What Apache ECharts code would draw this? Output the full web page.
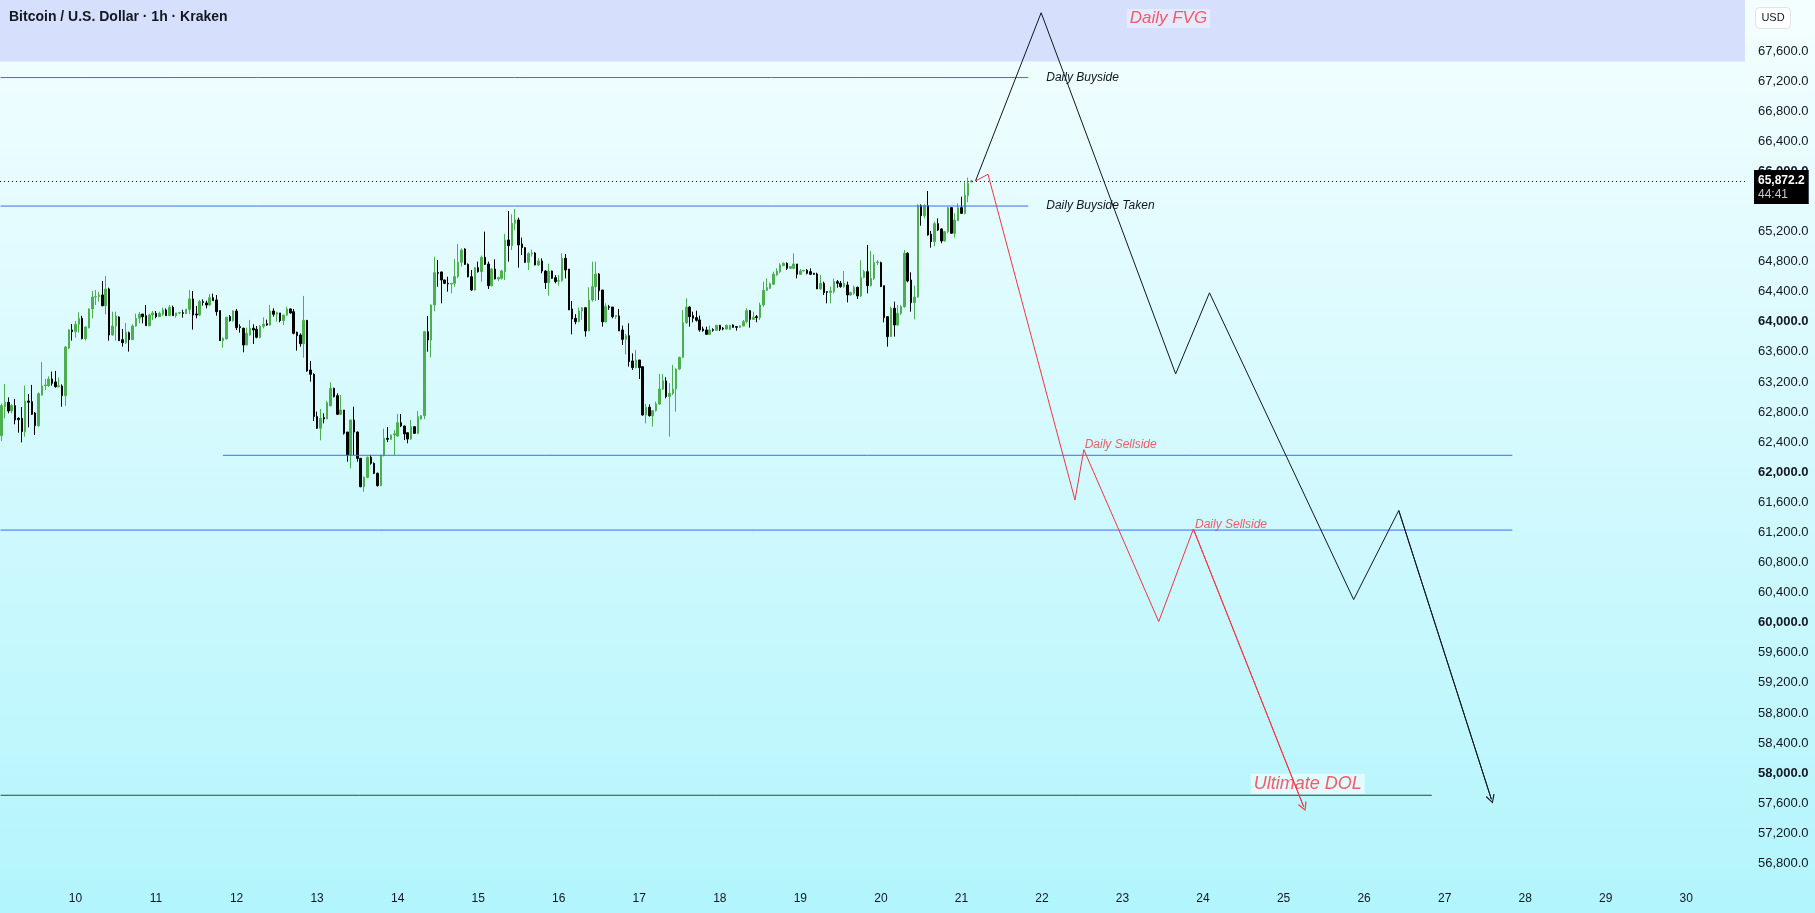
<!DOCTYPE html>
<html>
<head>
<meta charset="utf-8" />
<title>Bitcoin / U.S. Dollar 1h</title>
<style>
  html, body { margin: 0; padding: 0; }
  #chart { width: 1815px; height: 913px; }
</style>
</head>
<body>
<div id="chart"></div>
<script src="https://cdn.jsdelivr.net/npm/echarts@6/dist/echarts.min.js"></script>
<script>
// hourly slots: the first candle is 9 Sep 02:00, the axis runs on into the empty future
var firstDay = 9, firstHour = 2, slotCount = 520;

// 1h candles, [open, close, low, high]
var candles = [
  [62486,62885,62415,62911],[62871,62929,62716,63173],[62929,62814,62783,62995],[62814,62885,62783,62905],
  [62885,62694,62637,62973],[62716,62699,62526,62730],[62716,62539,62397,62867],[62539,62947,62473,63151],
  [62947,62930,62597,63040],[62938,62770,62760,63160],[62787,62619,62495,62800],[62619,63044,62605,63060],
  [63026,63146,63018,63465],[63150,63159,63093,63240],[63151,63239,63134,63275],[63239,63182,63151,63337],
  [63200,63137,63124,63346],[63137,63150,63128,63257],[63146,63018,62871,63168],[63018,63665,62880,63674],
  [63650,63891,63636,63904],[63891,63869,63749,63970],[63869,63966,63789,64010],[63966,64046,63855,64126],
  [64046,63775,63766,64080],[63775,63930,63749,63940],[63920,64170,63913,64178],[64170,64329,64046,64409],
  [64329,64334,64223,64422],[64334,64356,64267,64400],[64356,64214,64205,64542],[64214,64436,64098,64608],
  [64436,63824,63749,64453],[63824,63944,63815,64134],[63944,64077,63749,64134],[64063,63749,63744,64072],
  [63762,63722,63669,63904],[63722,63860,63704,63984],[63855,63762,63603,63869],[63762,63944,63758,63966],
  [63944,64046,63935,64108],[64046,64099,63979,64130],[64103,64068,63979,64103],[64081,63948,63948,64223],
  [63948,64090,63939,64108],[64090,64117,64024,64143],[64112,64068,64046,64143],[64068,64112,64063,64134],
  [64099,64157,64077,64188],[64157,64081,64081,64178],[64081,64192,64077,64223],[64192,64081,64081,64214],
  [64081,64117,64055,64117],[64117,64121,64100,64130],[64121,64112,64055,64160],[64108,64165,64103,64170],
  [64165,64303,64103,64422],[64303,64090,63895,64409],[64103,64090,64046,64210],[64090,64267,64081,64290],
  [64267,64258,64214,64298],[64250,64223,64179,64280],[64223,64320,64214,64369],[64320,64281,64276,64374],
  [64290,64134,64081,64356],[64148,63749,63749,64150],[63749,63780,63656,63790],[63771,64059,63766,64068],
  [64068,64015,64002,64090],[64015,64143,64002,64152],[64143,63922,63890,64170],[63935,63922,63855,63966],
  [63913,63691,63594,63922],[63691,63846,63691,63922],[63824,63913,63815,64024],[63913,63891,63704,63966],
  [63900,63793,63780,63944],[63793,63939,63780,63957],[63939,63966,63913,64059],[63975,63957,63948,64028],
  [63957,64143,63948,64223],[64143,64099,64068,64179],[64099,64121,64002,64134],[64117,64015,63993,64117],
  [64015,64090,63957,64090],[64090,64170,64077,64201],[64170,64117,64108,64179],[64134,63846,63833,64170],
  [63860,63815,63616,63869],[63824,63709,63669,63846],[63709,64019,63523,64343],[64019,63346,63337,64019],
  [63359,63301,63204,63479],[63301,62739,62681,63315],[62739,62584,62575,62805],[62584,62716,62424,62840],
  [62725,62708,62650,62783],[62708,62925,62708,62947],[62883,63115,62875,63195],[63115,63004,62995,63124],
  [63018,62770,62760,63049],[62770,62827,62760,63026],[62827,62517,62500,62827],[62534,62229,62140,62534],
  [62229,62694,62051,62700],[62694,62534,62229,62871],[62534,62184,62140,62540],[62184,61808,61800,62190],
  [61808,61932,61741,61945],[61932,62198,61920,62210],[62198,62118,62100,62230],[62118,61985,61975,62130],
  [61985,61821,61810,61995],[61821,62224,61815,62235],[62224,62450,62210,62580],[62450,62437,62400,62600],
  [62437,62494,62430,62500],[62494,62510,62229,62561],[62481,62658,62470,62774],[62658,62614,62600,62774],
  [62614,62508,62428,62620],[62525,62441,62384,62530],[62441,62605,62430,62694],[62605,62517,62510,62610],
  [62517,62738,62505,62813],[62707,62751,62700,62760],[62751,63868,62707,63870],[63868,63757,63602,64076],
  [63757,64223,63527,64230],[64223,64653,64140,64865],[64653,64644,64466,64821],[64662,64555,64245,64666],
  [64555,64511,64500,64560],[64511,64502,64400,64599],[64502,64511,64378,64515],[64511,64600,64466,64834],
  [64600,64790,64580,65034],[64790,64954,64733,64976],[64967,64763,64755,64976],[64763,64599,64590,64776],
  [64599,64422,64409,64688],[64422,64719,64415,64725],[64719,64666,64653,64799],[64666,64857,64533,64880],
  [64857,64763,64754,65198],[64768,64480,64436,64800],[64480,64701,64470,64710],[64701,64569,64565,64830],
  [64569,64586,64540,64600],[64577,64675,64560,64690],[64666,65087,64555,65167],[65087,65012,64799,65472],
  [65012,65309,64954,65428],[65309,65353,65220,65499],[65353,65021,64719,65384],[65034,64985,64887,65118],
  [64985,64790,64780,64995],[64790,64905,64688,64923],[64905,64914,64866,64960],[64914,64755,64750,64925],
  [64755,64808,64740,64845],[64808,64675,64644,64843],[64675,64520,64436,64685],[64520,64675,64347,64772],
  [64675,64577,64570,64680],[64586,64533,64511,64620],[64540,64547,64480,64620],[64547,64843,64533,64910],
  [64843,64688,64577,64900],[64701,64157,64157,64701],[64170,64037,63833,64276],[64046,64001,63966,64100],
  [64001,64143,63993,64190],[64143,64187,64024,64196],[64187,63877,63802,64187],[63877,64289,63877,64458],
  [64289,64467,64267,64799],[64467,64635,64276,64799],[64635,64413,64290,64644],[64422,63999,63935,64422],
  [63999,64201,63993,64245],[64201,64190,64157,64223],[64196,64068,64046,64196],[64068,64085,64037,64085],
  [64077,63877,63877,64170],[63891,63766,63691,63948],[63766,63815,63567,63838],[63815,63470,63404,63979],
  [63479,63390,63359,63580],[63390,63492,63381,63625],[63492,63390,63239,63492],[63403,62761,62752,63403],
  [62761,62863,62650,62907],[62863,62752,62739,62903],[62752,62819,62606,62828],[62819,62907,62805,62938],
  [62907,63106,62894,63306],[63106,63217,63093,63306],[63213,63005,62982,63262],[63005,63049,62473,63182],
  [63049,63106,63026,63425],[63106,63372,62805,63381],[63372,63527,63359,63536],[63527,63988,63514,64156],
  [63988,64196,63970,64312],[64196,64068,63935,64205],[64081,64046,63993,64134],[64055,64019,64002,64148],
  [64024,63891,63868,64081],[63904,63882,63868,63935],[63891,63833,63824,63935],[63833,63891,63824,63948],
  [63895,63886,63868,63913],[63886,63953,63877,63957],[63953,63900,63877,63957],[63913,63904,63886,63930],
  [63904,63953,63895,63960],[63900,63953,63890,63960],[63957,63926,63920,63966],[63935,63926,63882,63940],
  [63926,63945,63920,63950],[63945,64001,63940,64024],[64001,64148,63980,64179],[64148,64032,63922,64157],
  [64032,64059,64024,64134],[64068,64055,63993,64090],[64055,64223,64024,64254],[64223,64418,64200,64533],
  [64418,64454,64409,64577],[64445,64506,64436,64520],[64498,64631,64489,64666],[64622,64675,64613,64710],
  [64666,64755,64644,64777],[64746,64777,64740,64790],[64777,64710,64688,64790],[64710,64733,64700,64740],
  [64710,64768,64702,64910],[64768,64631,64577,64768],[64631,64675,64622,64700],[64675,64684,64670,64690],
  [64684,64644,64630,64700],[64666,64631,64622,64710],[64644,64631,64625,64650],[64635,64436,64436,64653],
  [64436,64511,64422,64622],[64511,64387,64356,64533],[64400,64391,64245,64405],[64391,64409,64245,64467],
  [64400,64533,64378,64577],[64533,64511,64453,64555],[64511,64467,64453,64542],[64467,64511,64453,64675],
  [64489,64356,64258,64533],[64356,64387,64347,64400],[64378,64458,64356,64480],[64458,64343,64303,64467],
  [64343,64591,64329,64817],[64591,64666,64577,64688],[64666,64480,64378,65021],[64480,64577,64467,64941],
  [64577,64786,64555,64896],[64786,64795,64755,64821],[64786,64467,64462,64799],[64480,64054,63992,64480],
  [64068,63802,63669,64068],[63802,64179,63802,64201],[64179,63957,63802,64267],[63957,64112,63948,64223],
  [64112,64201,64090,64223],[64201,64910,64187,64954],[64910,64542,64524,64923],[64555,64254,64134,64657],
  [64254,64329,64032,64480],[64329,65543,64320,65561],[65543,65410,65277,65561],[65410,65543,65375,65561],
  [65543,65153,65145,65738],[65163,65065,64985,65207],[65065,65304,65007,65331],[65304,65220,65207,65375],
  [65233,65074,65043,65242],[65074,65198,65065,65205],[65198,65517,65176,65530],[65517,65176,65170,65525],
  [65176,65353,65118,65441],[65344,65517,65340,65574],[65517,65441,65432,65663],[65441,65685,65428,65854],
  [65676,65840,65588,65916],[65860,65872,65850,65885]
];

var lastPrice = 65872.2;
var lastCountdown = '44:41';
var fvgBottom = 67460, fvgTop = 68277;

// drawn levels: price, from / to as a September day with fraction
var levelNames  = ['Daily Buyside', 'Daily Buyside Taken', '', '', ''];
var levelPrices = [67246, 65538, 62225, 61231, 57706];
var levelFrom   = [9.07, 9.07, 11.83, 9.07, 9.07];
var levelTo     = [21.83, 21.83, 27.84, 27.84, 26.84];
var levelColors = ['#3a6ef2', '#3a6ef2', '#3a6ef2', '#3a6ef2', '#3c3c3c'];

// projected paths, September day and price
var blackDays   = [21.175, 21.99, 23.66, 24.08, 25.87, 26.43, 27.58];
var blackPrices = [65872, 68108, 63307, 64385, 60307, 61491, 57653];
var redDays     = [21.175, 21.33, 22.41, 22.52, 23.45, 23.88, 25.25];
var redPrices   = [65872, 65960, 61631, 62300, 60014, 61245, 57552];

// text notes: label, day, price
var noteTexts  = ['Daily FVG', 'Ultimate DOL', 'Daily Sellside', 'Daily Sellside'];
var noteDays   = [23.57, 25.30, 22.53, 23.90];
var notePrices = [68031, 57860, 62362, 61307];

function daySlot(d) { return (d - firstDay) * 24 - firstHour; }

var categories = [];
for (var s = 0; s < slotCount; s++) {
  var h = s + firstHour;
  categories.push((firstDay + Math.floor(h / 24)) + ' ' + (h % 24) + ':00');
}

var blackPath = blackDays.map(function (d, i) { return [daySlot(d), blackPrices[i]]; });
var redPath = redDays.map(function (d, i) { return [daySlot(d), redPrices[i]]; });

var chevron = 'path://M5,0 L10,9 L9,10 L5,2.4 L1,10 L0,9 Z';
var font = 'Liberation Sans';

// one small line series per drawn level
var levelSeries = levelPrices.map(function (p, i) {
  return {
    type: 'line',
    xAxisIndex: 1,
    data: [[daySlot(levelFrom[i]), p], [daySlot(levelTo[i]), p]],
    symbol: 'none',
    silent: true,
    lineStyle: { color: levelColors[i], width: 1 },
    endLabel: {
      show: !!levelNames[i], formatter: levelNames[i], distance: 18,
      fontFamily: font, fontSize: 12, fontStyle: 'italic', color: '#131722'
    }
  };
});

var noteStyles = [
  { position: 'inside', fontSize: 17, color: '#f23645', backgroundColor: 'rgba(255,255,255,0.45)', padding: [1, 3] },
  { position: 'inside', fontSize: 18, color: '#f23645', backgroundColor: 'rgba(255,255,255,0.7)', padding: [1, 3] },
  { position: 'right', distance: 0, fontSize: 12, color: '#f23645' },
  { position: 'right', distance: 0, fontSize: 12, color: '#f23645' }
];
var notes = noteTexts.map(function (t, i) {
  var lab = Object.assign({ show: true, formatter: t, fontStyle: 'italic', fontFamily: font }, noteStyles[i]);
  return { value: [daySlot(noteDays[i]), notePrices[i]], label: lab };
});

var series = [{
  type: 'candlestick',
  data: candles,
  barWidth: 2,
  itemStyle: {
    color: '#4caf50', color0: '#000000',
    borderColor: '#4caf50', borderColor0: '#000000', borderWidth: 1
  },
  markArea: {
    silent: true,
    itemStyle: { color: '#d6e0fd' },
    data: [[{ yAxis: fvgBottom }, { yAxis: fvgTop }]]
  },
  markLine: {
    silent: true,
    symbol: 'none',
    lineStyle: { color: '#131722', type: [1, 3], width: 1 },
    label: {
      position: 'end', distance: 9, offset: [0, 6],
      backgroundColor: '#000', padding: [3, 4, 2, 4],
      formatter: '{a|65,872.2}\n{c|' + lastCountdown + '}',
      rich: {
        a: { color: '#fff', fontFamily: font, fontSize: 12, fontWeight: 'bold', lineHeight: 15 },
        c: { color: '#c8c8c8', fontFamily: font, fontSize: 12, lineHeight: 14 }
      }
    },
    data: [{ yAxis: lastPrice }]
  }
}].concat(levelSeries, [{
  type: 'line',
  xAxisIndex: 1,
  data: blackPath,
  symbol: 'none',
  lineStyle: { color: '#131722', width: 1 },
  markLine: {
    silent: true,
    symbol: ['none', chevron], symbolSize: [9, 9],
    lineStyle: { color: '#131722', width: 1, type: 'solid' },
    label: { show: false },
    data: [[{ coord: blackPath[blackPath.length - 2] }, { coord: blackPath[blackPath.length - 1] }]]
  }
}, {
  type: 'line',
  xAxisIndex: 1,
  data: redPath,
  symbol: 'none',
  lineStyle: { color: '#f23645', width: 1 },
  markLine: {
    silent: true,
    symbol: ['none', chevron], symbolSize: [9, 9],
    lineStyle: { color: '#f23645', width: 1, type: 'solid' },
    label: { show: false },
    data: [[{ coord: redPath[redPath.length - 2] }, { coord: redPath[redPath.length - 1] }]]
  }
}, {
  type: 'scatter',
  xAxisIndex: 1,
  symbolSize: 0,
  data: notes
}]);

var chart = echarts.init(document.getElementById('chart'));
chart.setOption({
  animation: false,
  backgroundColor: new echarts.graphic.LinearGradient(0, 0, 0, 1, [
    { offset: 0, color: '#f4feff' },
    { offset: 1, color: '#b2f5fc' }
  ]),
  title: {
    text: 'Bitcoin / U.S. Dollar · 1h · Kraken',
    left: 4, top: 5,
    textStyle: { fontFamily: font, fontSize: 14, fontWeight: 'bold', color: '#131722' }
  },
  grid: { left: 0, right: 70, top: 0, bottom: 19.5 },
  xAxis: [{
    type: 'category',
    data: categories,
    boundaryGap: true,
    axisLine: { show: false },
    axisTick: { show: false },
    splitLine: { show: false },
    axisLabel: {
      interval: function (idx) { return (idx + firstHour) % 24 === 0; },
      formatter: function (v) { return v.split(' ')[0]; },
      margin: -1,
      fontFamily: font, fontSize: 12, color: '#131722'
    }
  }, {
    type: 'value', min: -0.5, max: slotCount - 0.5, show: false
  }],
  yAxis: {
    type: 'value',
    position: 'right',
    min: 56400, max: fvgTop, interval: 400,
    axisLine: { show: false },
    axisTick: { show: false },
    splitLine: { show: false },
    axisLabel: {
      margin: 13,
      fontFamily: font, fontSize: 13, color: '#131722',
      formatter: function (v) {
        if (v >= 68000 || v < 56800 || v === 65600) return '';
        var t = v.toLocaleString('en-US') + '.0';
        return v % 2000 === 0 ? '{b|' + t + '}' : t;
      },
      rich: { b: { fontFamily: font, fontSize: 13, fontWeight: 'bold', color: '#131722' } }
    }
  },
  series: series,
  graphic: [{
    type: 'group', right: 24, top: 7,
    children: [
      { type: 'rect', shape: { x: 0, y: 0, width: 35, height: 21, r: 4 },
        style: { fill: '#ffffff', stroke: '#e0e3eb' } },
      { type: 'text', x: 17.5, y: 10.5,
        style: { text: 'USD', align: 'center', verticalAlign: 'middle', fontFamily: font, fontSize: 11, fill: '#131722' } }
    ]
  }]
});
</script>
</body>
</html>
